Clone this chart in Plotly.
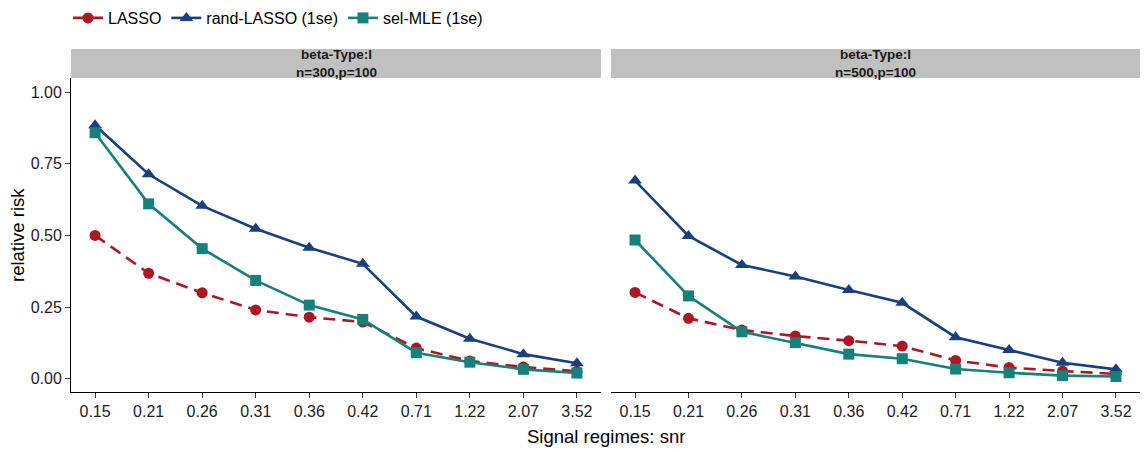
import plotly.graph_objects as go

# Signal-to-noise regimes (shared discrete x axis)
snr = ["0.15", "0.21", "0.26", "0.31", "0.36", "0.42", "0.71", "1.22", "2.07", "3.52"]

# Panel titles
panel_titles = ["beta-Type:I<br>n=300,p=100", "beta-Type:I<br>n=500,p=100"]

# Relative risk, n=300, p=100
lasso_300 = [0.500, 0.368, 0.300, 0.240, 0.215, 0.198, 0.107, 0.062, 0.041, 0.026]
rand_lasso_300 = [0.884, 0.713, 0.603, 0.523, 0.457, 0.401, 0.217, 0.140, 0.086, 0.054]
sel_mle_300 = [0.858, 0.610, 0.454, 0.343, 0.257, 0.207, 0.091, 0.058, 0.033, 0.020]

# Relative risk, n=500, p=100
lasso_500 = [0.301, 0.211, 0.170, 0.149, 0.133, 0.114, 0.064, 0.039, 0.027, 0.017]
rand_lasso_500 = [0.691, 0.498, 0.397, 0.357, 0.310, 0.265, 0.145, 0.100, 0.056, 0.033]
sel_mle_500 = [0.484, 0.289, 0.164, 0.126, 0.086, 0.070, 0.034, 0.021, 0.011, 0.008]

y_ticks = [0.0, 0.25, 0.5, 0.75, 1.0]
y_tick_text = ["0.00", "0.25", "0.50", "0.75", "1.00"]

RED = "#AD1724"
BLUE = "#173F82"
TEAL = "#16807A"

FONT = "Liberation Sans, Arial, sans-serif"
W, H = 1146, 452

def px_x(v):
    return v / W

def px_y(v):
    return 1 - v / H

fig = go.Figure()

series = [
    ("LASSO", RED, "circle", "12px,7px", lasso_300, lasso_500),
    ("rand-LASSO (1se)", BLUE, "triangle-up", "solid", rand_lasso_300, rand_lasso_500),
    ("sel-MLE (1se)", TEAL, "square", "solid", sel_mle_300, sel_mle_500),
]

for name, color, symbol, dash, v300, v500 in series:
    for axis_idx, vals in ((1, v300), (2, v500)):
        fig.add_trace(go.Scatter(
            x=snr, y=vals, name=name,
            mode="lines+markers",
            line=dict(color=color, width=2.6, dash=dash),
            marker=dict(color=color, symbol=symbol,
                        size=11 if symbol != "triangle-up" else 12),
            xaxis="x" if axis_idx == 1 else "x2",
            yaxis="y" if axis_idx == 1 else "y2",
            showlegend=(axis_idx == 1),
            legendgroup=name,
        ))

plot_top, plot_bottom = 78, 392
strip_top = 49
left_dom = [px_x(71), px_x(601)]
right_dom = [px_x(611), px_x(1140)]
y_dom = [px_y(plot_bottom), px_y(plot_top)]

# y range so that 0 sits at 378.8px and 1 at 92px
unit = 378.8 - 92
y_range = [-(plot_bottom - 378.8) / unit, 1 + (92 - plot_top) / unit]
x_range = [-0.45, 9.45]

tick_font = dict(family=FONT, size=16, color="#222222")

common_x = dict(
    type="category", categoryorder="array", categoryarray=snr,
    range=x_range, showgrid=False, zeroline=False,
    showline=True, linecolor="black", linewidth=1,
    ticks="outside", ticklen=5, tickcolor="#333333",
    tickfont=tick_font, automargin=False, fixedrange=True,
)

fig.update_layout(
    width=W, height=H,
    margin=dict(l=0, r=0, t=0, b=0),
    paper_bgcolor="white", plot_bgcolor="white",
    xaxis=dict(domain=left_dom, anchor="y", **common_x),
    xaxis2=dict(domain=right_dom, anchor="y2", **common_x),
    yaxis=dict(
        domain=y_dom, anchor="x", range=y_range,
        tickvals=y_ticks, ticktext=y_tick_text,
        showgrid=False, zeroline=False,
        showline=True, linecolor="black", linewidth=1,
        ticks="outside", ticklen=5, tickcolor="#333333",
        tickfont=tick_font, automargin=False,
    ),
    yaxis2=dict(
        domain=y_dom, anchor="x2", range=y_range, matches="y",
        showgrid=False, zeroline=False, showline=False,
        showticklabels=False, ticks="",
    ),
    legend=dict(
        orientation="h", x=px_x(68), y=1 - 1 / H, xanchor="left", yanchor="top",
        font=dict(family=FONT, size=16, color="black"),
        itemwidth=30, tracegroupgap=0, bgcolor="rgba(0,0,0,0)",
    ),
    showlegend=True,
)

# Facet strips
shapes = []
annotations = []
for dom, title in zip((left_dom, right_dom), panel_titles):
    shapes.append(dict(
        type="rect", xref="paper", yref="paper",
        x0=dom[0], x1=dom[1], y0=px_y(plot_top), y1=px_y(strip_top),
        fillcolor="#C0C0C0", line=dict(width=0), layer="below",
    ))
    annotations.append(dict(
        xref="paper", yref="paper", x=(dom[0] + dom[1]) / 2,
        y=(px_y(plot_top) + px_y(strip_top)) / 2,
        text="<b>" + title + "</b>", showarrow=False,
        font=dict(family=FONT, size=13.5, color="#1a1a1a"),
        xanchor="center", yanchor="middle", align="center",
    ))

# Axis titles
annotations.append(dict(
    xref="paper", yref="paper", x=px_x(606), y=px_y(436),
    text="Signal regimes: snr", showarrow=False,
    font=dict(family=FONT, size=18.5, color="black"),
    xanchor="center", yanchor="middle",
))
annotations.append(dict(
    xref="paper", yref="paper", x=px_x(17), y=px_y(235),
    text="relative risk", showarrow=False, textangle=-90,
    font=dict(family=FONT, size=18.5, color="black"),
    xanchor="center", yanchor="middle",
))

fig.update_layout(shapes=shapes, annotations=annotations)

fig.write_html("out.html")
